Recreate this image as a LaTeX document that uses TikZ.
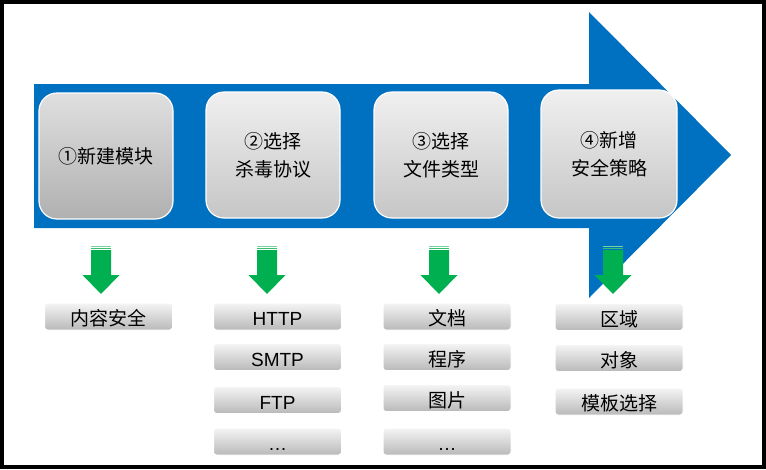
\documentclass[tikz,border=0pt]{standalone}
\usepackage{fontspec}
\setmainfont{Noto Sans CJK SC}
\newfontfamily\latinfont{Liberation Sans}
\definecolor{arrowblue}{HTML}{0070C0}
\definecolor{arrowgreen}{HTML}{00B050}
\tikzset{
  bigbox/.style={rounded corners=18pt, draw=white, line width=1.2pt,
    top color=gray!12, bottom color=gray!45, minimum width=134pt,
    minimum height=126pt, align=center, font=\fontsize{19}{28}\selectfont},
  firstbox/.style={bigbox, top color=gray!25, bottom color=gray!62},
  smallbox/.style={rounded corners=3pt, draw=white, line width=1pt,
    top color=gray!8, bottom color=gray!55, minimum width=128pt,
    minimum height=27pt, inner sep=0pt, text height=18pt, text depth=0pt,
    font=\fontsize{19}{22}\selectfont},
}
\begin{document}
\begin{tikzpicture}[x=1pt,y=-1pt]
\useasboundingbox (0,0) rectangle (766,469);
\draw[line width=3.5pt] (2,2) rectangle (764,467);
% big blue arrow
\fill[arrowblue] (34,84) -- (589,84) -- (589,12) -- (731,155) -- (589,298) -- (589,228) -- (34,228) -- cycle;
% steps
\node[firstbox] (m1) at (106,156) {①新建模块};
\node[bigbox] (m2) at (273,155) {②选择\\杀毒协议};
\node[bigbox] (m3) at (441,155) {③选择\\文件类型};
\node[bigbox, minimum width=136pt, minimum height=128pt] (m4) at (609,154) {④新增\\安全策略};
% green arrows
\foreach \cx in {101,267,439,613} {
  \fill[arrowgreen] (\cx-10,250) -- (\cx+10,250) -- (\cx+10,275) -- (\cx+18.5,275)
    -- (\cx,294) -- (\cx-18.5,275) -- (\cx-10,275) -- cycle;
  \fill[arrowgreen!55] (\cx-10,246) rectangle (\cx+10,247);
  \fill[arrowgreen!80] (\cx-10,248) rectangle (\cx+10,249);
}
% items
\node[smallbox] (c1) at (108.5,316.5) {内容安全};
\node[smallbox] (p1) at (277.5,316.5) {\latinfont HTTP};
\node[smallbox] (p2) at (277.5,357) {\latinfont SMTP};
\node[smallbox] (p3) at (277.5,400) {\latinfont FTP};
\node[smallbox] (p4) at (277.5,441.5) {\latinfont …};
\node[smallbox] (f1) at (447,316.5) {文档};
\node[smallbox] (f2) at (447,357) {程序};
\node[smallbox] (f3) at (447,398) {图片};
\node[smallbox] (f4) at (447,441.5) {\latinfont …};
\node[smallbox] (s1) at (619,317) {区域};
\node[smallbox] (s2) at (619,358) {对象};
\node[smallbox] (s3) at (619,401.5) {模板选择};
\end{tikzpicture}
\end{document}
